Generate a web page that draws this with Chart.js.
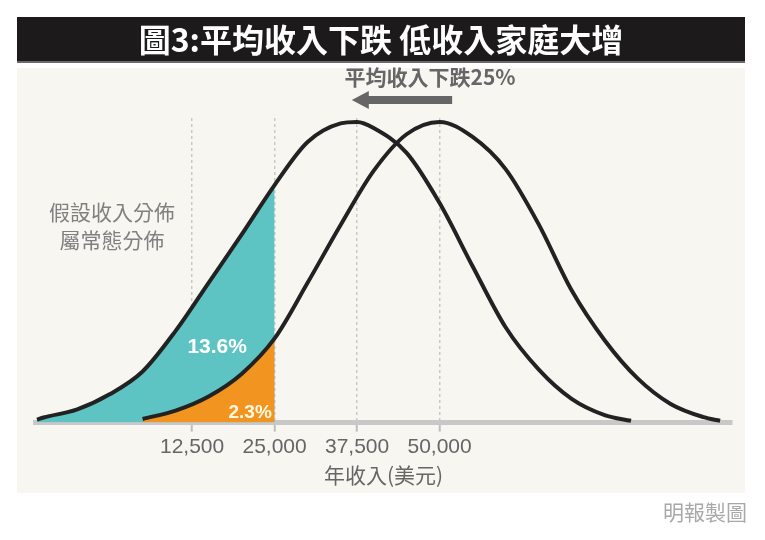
<!DOCTYPE html>
<html>
<head>
<meta charset="utf-8">
<script src="https://cdn.jsdelivr.net/npm/chart.js@4.4.1/dist/chart.umd.min.js"></script>
<style>
  html, body { margin: 0; padding: 0; background: #fff; }
  #chart { display: block; }
</style>
</head>
<body>
<canvas id="chart" width="765" height="540"></canvas>
<script>
// values: households at each annual income (peak = 100)
// before: mean income about 50,000
const incomeBefore = [5000, 10000, 15000, 20000, 25000, 30000, 35000, 40000, 45000, 50000,
    55000, 60000, 65000, 70000, 75000, 80000, 85000, 90000, 92500];
const shareBefore = [1.2, 4.0, 8.7, 16.2, 28, 46.5, 65.7, 83.7, 95.9, 100,
    95, 84.3, 66, 44, 27.4, 14.7, 6.2, 1.8, 0.6];

// after: mean income down 25%, about 37,500
const incomeAfter = [-11000, -10000, -5000, 0, 5000, 10000, 15000, 20000, 25000, 30000, 35000,
    37500, 40000, 45000, 50000, 55000, 60000, 65000, 70000, 75000, 79000];
const shareAfter = [1.0, 1.7, 4.3, 9.4, 17, 30.5, 46.5, 62.5, 79, 93.3, 99.5,
    100, 98, 89.7, 73, 52, 31.7, 17.7, 7.9, 2.5, 0.6];

const tickValues = [12500, 25000, 37500, 50000];
const cutoff = 25000;
const shareBelowAfter = '13.6%';
const shareBelowBefore = '2.3%';

const CJK = '"Noto Sans CJK TC", "Noto Sans CJK SC", sans-serif';
const NUM = '"Liberation Sans", Arial, "Noto Sans CJK TC", sans-serif';

const toPoints = (xs, ys) => xs.map((x, i) => ({ x: x, y: ys[i] }));

// page frame: white page, black title bar, cream panel
const backdrop = {
    id: 'backdrop',
    beforeDraw(chart) {
        const ctx = chart.ctx;
        ctx.save();
        ctx.fillStyle = '#ffffff';
        ctx.fillRect(0, 0, chart.width, chart.height);
        ctx.fillStyle = '#f8f6f1';
        ctx.fillRect(17, 68, 728, 425);
        ctx.fillStyle = '#1c1a1a';
        ctx.fillRect(17, 17, 728, 46);
        ctx.fillStyle = '#6a6a6a';
        ctx.fillRect(17, 61, 728, 2);
        ctx.fillStyle = '#ffffff';
        ctx.font = 'bold 32px ' + CJK;
        ctx.textAlign = 'center';
        ctx.textBaseline = 'middle';
        ctx.fillText('圖3:平均收入下跌 低收入家庭大增', 381, 40);
        ctx.restore();
    }
};

// arrow, notes and source
const notes = {
    id: 'notes',
    afterDraw(chart) {
        const ctx = chart.ctx;
        const x = chart.scales.x;
        const y = chart.scales.y;
        ctx.save();

        // arrow: mean moves left
        const ax1 = x.getPixelForValue(51900);
        const ax0 = x.getPixelForValue(36700);
        ctx.strokeStyle = '#666';
        ctx.fillStyle = '#666';
        ctx.lineWidth = 8;
        ctx.beginPath();
        ctx.moveTo(ax1, 100);
        ctx.lineTo(ax0 + 14, 100);
        ctx.stroke();
        ctx.beginPath();
        ctx.moveTo(ax0, 100);
        ctx.lineTo(ax0 + 17, 91);
        ctx.lineTo(ax0 + 17, 109);
        ctx.closePath();
        ctx.fill();

        ctx.textAlign = 'center';
        ctx.textBaseline = 'middle';
        ctx.fillStyle = '#666';
        ctx.font = 'bold 21px ' + CJK;
        ctx.fillText('平均收入下跌25%', 430, 77);

        ctx.fillStyle = '#808080';
        ctx.font = '21px ' + CJK;
        ctx.fillText('假設收入分佈', 112, 212);
        ctx.fillText('屬常態分佈', 112, 240);

        ctx.fillStyle = '#ffffff';
        ctx.font = 'bold 21px ' + NUM;
        ctx.fillText(shareBelowAfter, x.getPixelForValue(16300), y.getPixelForValue(25));
        ctx.fillStyle = '#fff8e0';
        ctx.font = 'bold 19px ' + NUM;
        ctx.fillText(shareBelowBefore, x.getPixelForValue(21300), y.getPixelForValue(3.4));

        ctx.textAlign = 'right';
        ctx.fillStyle = '#a8a8a8';
        ctx.font = '21px ' + CJK;
        ctx.fillText('明報製圖', 747, 512);
        ctx.restore();
    }
};

const ctx = document.getElementById('chart').getContext('2d');
const chart = new Chart(ctx, {
    type: 'line',
    data: {
        datasets: [{
            label: '平均收入下跌後',
            data: toPoints(incomeAfter, shareAfter),
            borderColor: '#222',
            borderWidth: 4,
            fill: false,
            clip: 8,
            order: 0
        }, {
            label: '原來',
            data: toPoints(incomeBefore, shareBefore),
            borderColor: '#222',
            borderWidth: 4,
            fill: false,
            clip: 8,
            order: 1
        }, {
            label: '原來低於25,000',
            data: toPoints(incomeBefore, shareBefore).filter(p => p.x <= cutoff),
            borderWidth: 0,
            backgroundColor: '#f29520',
            fill: 'origin',
            order: 2
        }, {
            label: '下跌後低於25,000',
            data: toPoints(incomeAfter, shareAfter).filter(p => p.x <= cutoff),
            borderWidth: 0,
            backgroundColor: '#5dc4c3',
            fill: 'origin',
            order: 3
        }]
    },
    options: {
        responsive: false,
        animation: false,
        devicePixelRatio: 1,
        layout: { padding: { left: 35, right: 33, top: 118, bottom: 47 } },
        elements: {
            point: { radius: 0, hoverRadius: 0 },
            line: { cubicInterpolationMode: 'monotone' }
        },
        plugins: {
            legend: { display: false },
            tooltip: { enabled: false }
        },
        scales: {
            x: {
                type: 'linear',
                min: -11300,
                max: 94300,
                afterBuildTicks: (scale) => {
                    scale.ticks = tickValues.map(v => ({ value: v }));
                },
                ticks: {
                    autoSkip: false,
                    maxRotation: 0,
                    padding: 3,
                    color: '#666',
                    font: { family: NUM, size: 21 },
                    callback: (v) => v.toLocaleString('en-US')
                },
                grid: {
                    color: '#c9c9c9',
                    lineWidth: 1.5,
                    tickLength: 9,
                    tickColor: '#bdbdbd',
                    tickWidth: 2
                },
                border: { color: '#c8c8c8', width: 5, dash: [3, 3] },
                title: {
                    display: true,
                    text: '年收入(美元)',
                    color: '#666',
                    font: { family: CJK, size: 21 },
                    padding: { top: 0, bottom: 5 }
                }
            },
            y: { display: false, min: 0, max: 101.3 }
        }
    },
    plugins: [backdrop, notes]
});
</script>
</body>
</html>
